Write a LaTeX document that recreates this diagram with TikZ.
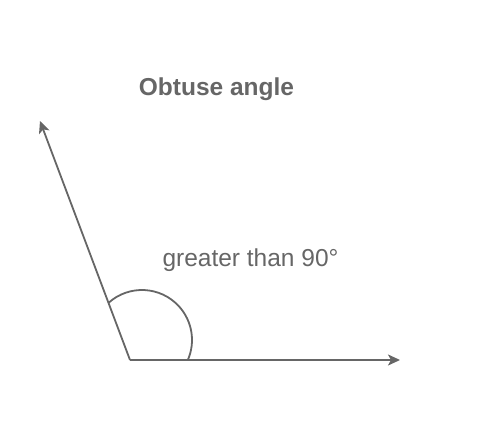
\documentclass[tikz,border=0pt]{standalone}
\usepackage{fontspec}
\setmainfont{Liberation Sans}
\usetikzlibrary{arrows.meta}
\definecolor{linegray}{HTML}{666666}
\newcommand{\headingfont}{\bfseries\fontsize{24.5}{29}\selectfont}
\newcommand{\measurefont}{\fontsize{24.5}{29}\selectfont}
\tikzset{
  ray/.style={draw, line width=1.8pt, linegray, -{Stealth[length=12pt, width=11pt, inset=3pt]}},
  anglearc/.style={draw, line width=1.8pt, linegray},
  headingtext/.style={font=\headingfont, text=linegray, anchor=base, inner sep=0pt},
  measuretext/.style={font=\measurefont, text=linegray, anchor=base, inner sep=0pt}
}

\begin{document}
\begin{tikzpicture}[x=1pt, y=1pt]
    \useasboundingbox (0,0) rectangle (489,420);
    % First we place the vertex, the ray tips and the texts
    \coordinate (O) at (130,60);
    \coordinate (A) at (40,299);
    \coordinate (B) at (400,60);
    \coordinate (arccentre) at (142,80);
    \node[headingtext] (heading) at (216.5,324) {Obtuse angle};
    \node[measuretext] (measure) at (250.5,153.3) {greater than 90°};
    % Then the two rays and the angle mark
    \foreach \dest in {A, B}
      \path[ray] (O) -- (\dest);
    \path[anglearc] (arccentre) ++(132:50pt) arc[start angle=132, end angle=-24, radius=50pt];
\end{tikzpicture}
\end{document}
